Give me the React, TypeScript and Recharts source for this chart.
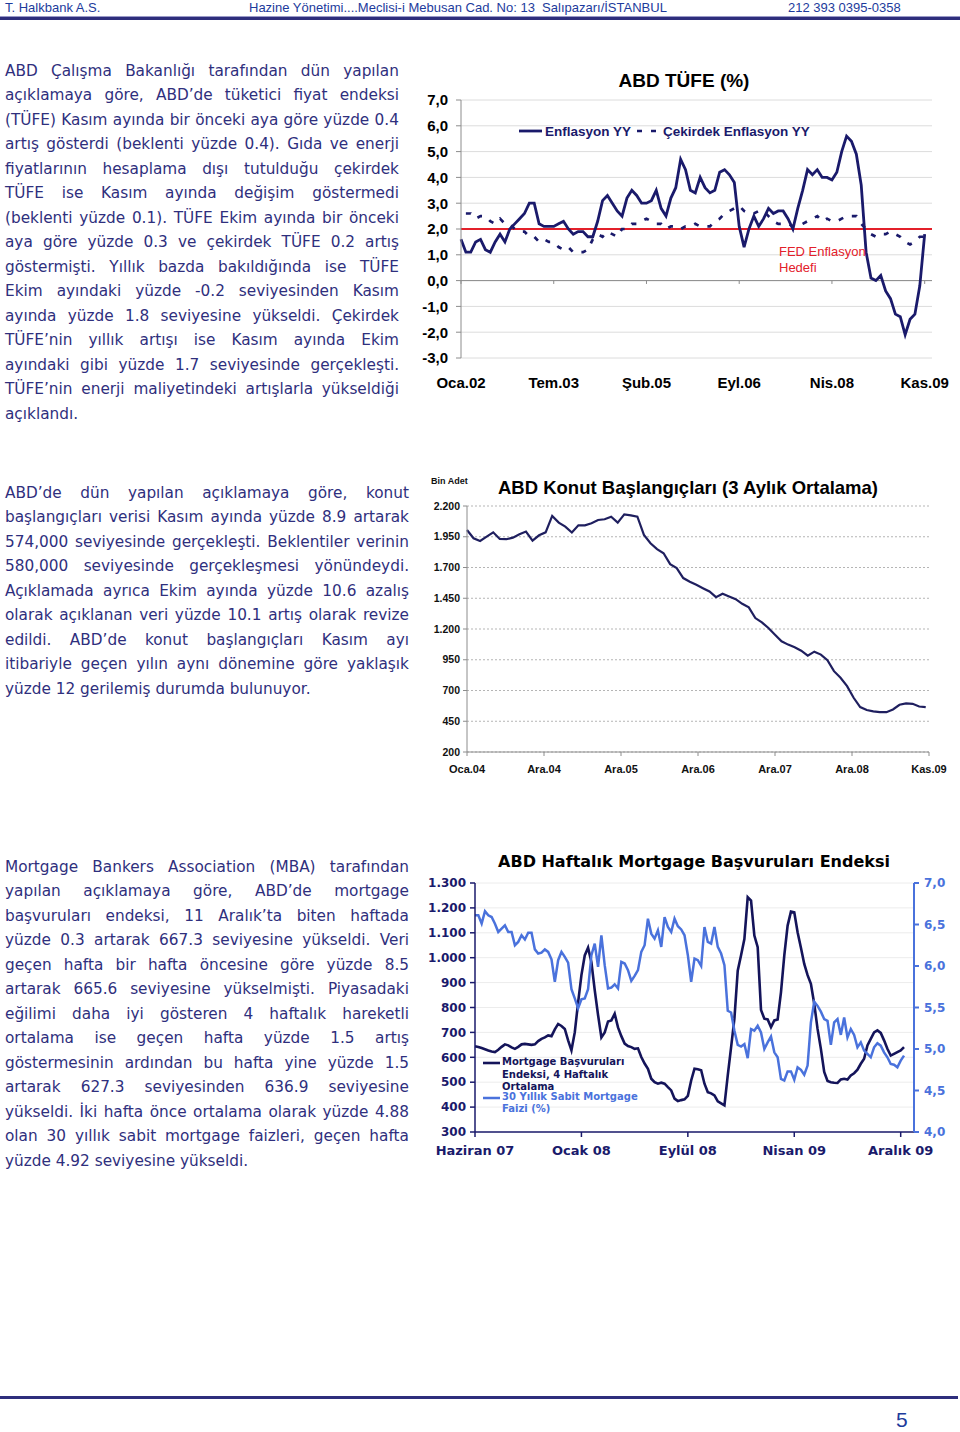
import React from 'react'
import { LineChart, Line, XAxis, YAxis, CartesianGrid, ReferenceLine } from 'recharts'

// ---- ABD TÜFE (%), aylık
const tufeTickIdx = [0, 19, 38, 57, 76, 95]
const tufeTickLabels = ['Oca.02', 'Tem.03', 'Şub.05', 'Eyl.06', 'Nis.08', 'Kas.09']
const tufeYTicks = [-3, -2, -1, 0, 1, 2, 3, 4, 5, 6, 7]
const enflasyonYY = [
  1.6, 1.1, 1.1, 1.5, 1.6, 1.2, 1.1, 1.5, 1.8, 1.5, 2.0, 2.2, 2.4,
  2.6, 3.0, 3.0, 2.2, 2.1, 2.1, 2.1, 2.2, 2.3, 2.0, 1.8, 1.9,
  1.9, 1.7, 1.7, 2.3, 3.1, 3.3, 3.0, 2.7, 2.5, 3.2, 3.5, 3.3,
  3.0, 3.0, 3.1, 3.5, 2.8, 2.5, 3.2, 3.6, 4.7, 4.3, 3.5, 3.4,
  4.0, 3.6, 3.4, 3.5, 4.2, 4.3, 4.1, 3.8, 2.1, 1.3, 2.0, 2.5,
  2.1, 2.4, 2.8, 2.6, 2.7, 2.7, 2.4, 2.0, 2.8, 3.5, 4.3, 4.1,
  4.3, 4.0, 4.0, 3.9, 4.2, 5.0, 5.6, 5.4, 4.9, 3.7, 1.1, 0.1,
  0.0, 0.2, -0.4, -0.7, -1.3, -1.4, -2.1, -1.5, -1.3, -0.2, 1.8,
]
const cekirdekYY = [
  null, 2.6, 2.6, 2.4, 2.5, 2.5, 2.3, 2.2, 2.4, 2.2, 2.2, 2.0, 1.9,
  1.9, 1.7, 1.7, 1.5, 1.6, 1.5, 1.5, 1.3, 1.2, 1.3, 1.1, 1.1,
  1.1, 1.2, 1.6, 1.8, 1.7, 1.9, 1.8, 1.7, 2.0, 2.0, 2.2, 2.2,
  2.3, 2.4, 2.3, 2.2, 2.2, 2.0, 2.1, 2.1, 2.0, 2.1, 2.1, 2.2,
  2.1, 2.1, 2.1, 2.3, 2.4, 2.6, 2.7, 2.8, 2.9, 2.7, 2.6, 2.6,
  2.7, 2.7, 2.5, 2.3, 2.2, 2.2, 2.2, 2.1, 2.1, 2.2, 2.3, 2.4,
  2.5, 2.3, 2.4, 2.3, 2.3, 2.4, 2.5, 2.5, 2.5, 2.2, 2.0, 1.8,
  1.7, 1.8, 1.8, 1.9, 1.8, 1.7, 1.5, 1.4, 1.5, 1.7, 1.7,
]
const fedHedef = 2

// ---- ABD Konut Başlangıçları (3 aylık ort., bin adet), Oca.04 - Kas.09
const konutTickIdx = [0, 11.75, 23.5, 35.25, 47, 58.75, 70.5]
const konutTickLabels = ['Oca.04', 'Ara.04', 'Ara.05', 'Ara.06', 'Ara.07', 'Ara.08', 'Kas.09']
const konutYTicks = [200, 450, 700, 950, 1200, 1450, 1700, 1950, 2200]
const konutBaslangic = [
  2005, 1938, 1916, 1951, 1986, 1932, 1930, 1943, 1970, 1992,
  1919, 1962, 1986, 2119, 2065, 2032, 1984, 2043, 2043, 2059,
  2086, 2092, 2113, 2065, 2132, 2124, 2113, 1965, 1897, 1849,
  1816, 1727, 1695, 1614, 1584, 1559, 1532, 1505, 1459, 1486,
  1465, 1443, 1405, 1376, 1289, 1254, 1208, 1154, 1100, 1073,
  1051, 1024, 984, 1016, 992, 946, 857, 803, 735, 641,
  565, 541, 530, 524, 524, 546, 584, 595, 592, 570, 565,
]

// ---- ABD Haftalık Mortgage Başvuruları, Haziran 07 - Aralık 09
const mortgageTickIdx = [0, 32, 64, 96, 128]
const mortgageTickLabels = ['Haziran 07', 'Ocak 08', 'Eylül 08', 'Nisan 09', 'Aralık 09']
const mortgageYTicks = [300, 400, 500, 600, 700, 800, 900, 1000, 1100, 1200, 1300]
const faizYTicks = [4, 4.5, 5, 5.5, 6, 6.5, 7]
const mbaEndeks = [
  644, 641, 637, 632, 627, 623, 621, 630, 642, 652,
  648, 640, 634, 642, 652, 654, 652, 650, 652, 665,
  674, 680, 688, 685, 712, 734, 726, 714, 668, 628,
  700, 820, 930, 1009, 1040, 982, 870, 770, 680, 700,
  744, 748, 775, 720, 685, 655, 645, 641, 634, 636,
  601, 575, 554, 514, 500, 494, 498, 494, 480, 467,
  434, 424, 428, 431, 445, 507, 554, 552, 548, 494,
  460, 455, 447, 423, 415, 407, 527, 640, 755, 948,
  1010, 1075, 1243, 1229, 1089, 1042, 790, 755, 752, 721,
  748, 752, 861, 1009, 1129, 1185, 1182, 1102, 1040, 975,
  930, 895, 815, 714, 634, 541, 505, 500, 498, 497,
  511, 514, 511, 527, 536, 550, 574, 594, 648, 674,
  700, 708, 698, 668, 634, 607, 614, 621, 628, 641,
]
const sabitFaiz = [
  6.61, 6.61, 6.51, 6.66, 6.61, 6.59, 6.51, 6.41, 6.45, 6.49,
  6.41, 6.41, 6.25, 6.29, 6.37, 6.32, 6.40, 6.40, 6.20, 6.15,
  6.16, 6.20, 6.17, 6.08, 5.81, 6.07, 6.17, 6.11, 6.04, 5.72,
  5.61, 5.49, 5.60, 5.61, 5.72, 6.13, 6.27, 5.99, 6.37, 6.01,
  5.73, 5.74, 5.78, 5.73, 6.05, 6.03, 5.95, 5.82, 5.88, 5.95,
  6.17, 6.25, 6.57, 6.39, 6.33, 6.43, 6.23, 6.59, 6.47, 6.41,
  6.57, 6.48, 6.44, 6.37, 6.13, 5.81, 6.09, 6.07, 6.00, 6.47,
  6.29, 6.27, 6.47, 6.23, 6.15, 6.01, 5.46, 5.44, 5.22, 5.05,
  5.03, 5.06, 4.89, 5.24, 5.22, 5.28, 5.20, 5.00, 5.08, 5.15,
  4.96, 4.90, 4.64, 4.62, 4.73, 4.73, 4.63, 4.78, 4.75, 4.69,
  4.80, 5.32, 5.57, 5.52, 5.45, 5.36, 5.34, 5.05, 5.32, 5.36,
  5.17, 5.38, 5.14, 5.24, 5.17, 5.02, 5.08, 4.98, 4.94, 4.90,
  5.02, 5.07, 5.04, 4.96, 4.90, 4.82, 4.81, 4.78, 4.86, 4.92,
]

// ---- metin
const para1 = [
  'ABD Çalışma Bakanlığı tarafından dün yapılan',
  'açıklamaya göre, ABD’de tüketici fiyat endeksi',
  '(TÜFE) Kasım ayında bir önceki aya göre yüzde 0.4',
  'artış gösterdi (beklenti yüzde 0.4). Gıda ve enerji',
  'fiyatlarının hesaplama dışı tutulduğu çekirdek',
  'TÜFE ise Kasım ayında değişim göstermedi',
  '(beklenti yüzde 0.1). TÜFE Ekim ayında bir önceki',
  'aya göre yüzde 0.3 ve çekirdek TÜFE 0.2 artış',
  'göstermişti. Yıllık bazda bakıldığında ise TÜFE',
  'Ekim ayındaki yüzde -0.2 seviyesinden Kasım',
  'ayında yüzde 1.8 seviyesine yükseldi. Çekirdek',
  'TÜFE’nin yıllık artışı ise Kasım ayında Ekim',
  'ayındaki gibi yüzde 1.7 seviyesinde gerçekleşti.',
  'TÜFE’nin enerji maliyetindeki artışlarla yükseldiği',
  'açıklandı.',
]
const para2 = [
  'ABD’de dün yapılan açıklamaya göre, konut',
  'başlangıçları verisi Kasım ayında yüzde 8.9 artarak',
  '574,000 seviyesinde gerçekleşti. Beklentiler verinin',
  '580,000 seviyesinde gerçekleşmesi yönündeydi.',
  'Açıklamada ayrıca Ekim ayında yüzde 10.6 azalış',
  'olarak açıklanan veri yüzde 10.1 artış olarak revize',
  'edildi. ABD’de konut başlangıçları Kasım ayı',
  'itibariyle geçen yılın aynı dönemine göre yaklaşık',
  'yüzde 12 gerilemiş durumda bulunuyor.',
]
const para3 = [
  'Mortgage Bankers Association (MBA) tarafından',
  'yapılan açıklamaya göre, ABD’de mortgage',
  'başvuruları endeksi, 11 Aralık’ta biten haftada',
  'yüzde 0.3 artarak 667.3 seviyesine yükseldi. Veri',
  'geçen hafta bir hafta öncesine göre yüzde 8.5',
  'artarak 665.6 seviyesine yükselmişti. Piyasadaki',
  'eğilimi daha iyi gösteren 4 haftalık hareketli',
  'ortalama ise geçen hafta yüzde 1.5 artış',
  'göstermesinin ardından bu hafta yine yüzde 1.5',
  'artarak 627.3 seviyesinden 636.9 seviyesine',
  'yükseldi. İki hafta önce ortalama olarak yüzde 4.88',
  'olan 30 yıllık sabit mortgage faizleri, geçen hafta',
  'yüzde 4.92 seviyesine yükseldi.',
]

const tufeData = enflasyonYY.map((v, i) => ({ i, cpi: v, core: cekirdekYY[i] }))
const konutData = konutBaslangic.map((v, i) => ({ i, v }))
const mortgageData = mbaEndeks.map((v, i) => ({ i, mba: v, faiz: sabitFaiz[i] }))

const ARIAL = '"Liberation Sans", Arial, sans-serif'
const VERDANA = '"DejaVu Sans", Verdana, sans-serif'
const NAVY = '#1a1a6b'
const TEXT = '#2f2f7d'
const LIGHT_BLUE = '#4a72dc'

const comma1 = (v: number) => v.toFixed(1).replace('.', ',')
const thousands = (v: number) =>
  v >= 1000 ? `${Math.floor(v / 1000)}.${String(v % 1000).padStart(3, '0')}` : String(v)
const labelOf = (ticks: number[], labels: string[]) => (v: number) => labels[ticks.indexOf(v)] ?? ''

function Para({ lines, top, width }: { lines: string[]; top: number; width: number }) {
  return (
    <div
      style={{
        position: 'absolute',
        left: 5,
        top,
        width,
        fontFamily: VERDANA,
        fontSize: 15.3,
        lineHeight: '24.5px',
        color: TEXT,
      }}
    >
      {lines.map((l, k) =>
        k < lines.length - 1 ? (
          <div key={k} style={{ display: 'flex', justifyContent: 'space-between', whiteSpace: 'nowrap' }}>
            {l.split(' ').map((w, j) => (
              <span key={j}>{w}</span>
            ))}
          </div>
        ) : (
          <div key={k} style={{ whiteSpace: 'nowrap' }}>
            {l}
          </div>
        )
      )}
    </div>
  )
}

function Centered({ x, y, style, children }: { x: number; y: number; style: React.CSSProperties; children: React.ReactNode }) {
  return (
    <div style={{ position: 'absolute', left: x, top: y, transform: 'translate(-50%, -50%)', whiteSpace: 'nowrap', ...style }}>
      {children}
    </div>
  )
}

function TufeChart() {
  const axisGray = '#8c8c8c'
  return (
    <>
      <div style={{ position: 'absolute', left: 400, top: 60 }}>
        <LineChart width={560} height={345} data={tufeData} margin={{ top: 40, right: 28, bottom: 0, left: 0 }}>
          <CartesianGrid vertical={false} stroke="#dcdcdc" />
          <XAxis
            dataKey="i"
            type="number"
            domain={[0, 96.5]}
            ticks={tufeTickIdx}
            interval={0}
            tickFormatter={labelOf(tufeTickIdx, tufeTickLabels)}
            axisLine={false}
            tickLine={false}
            tickSize={0}
            tickMargin={19}
            height={47}
            tick={{ fill: '#000', fontSize: 15, fontWeight: 700, fontFamily: ARIAL }}
          />
          <YAxis
            type="number"
            domain={[-3, 7]}
            ticks={tufeYTicks}
            interval={0}
            tickFormatter={comma1}
            width={61}
            axisLine={{ stroke: axisGray }}
            tickLine={{ stroke: axisGray }}
            tickSize={5}
            tickMargin={8}
            tick={{ fill: '#000', fontSize: 15, fontWeight: 700, fontFamily: ARIAL }}
          />
          <ReferenceLine y={0} stroke={axisGray} />
          {tufeTickIdx.map((t) => (
            <ReferenceLine
              key={t}
              segment={[
                { x: t, y: 0 },
                { x: t, y: -0.13 },
              ]}
              stroke={axisGray}
            />
          ))}
          <ReferenceLine y={fedHedef} stroke="#e3202a" strokeWidth={2} />
          <Line
            dataKey="core"
            type="linear"
            stroke={NAVY}
            strokeWidth={2.7}
            strokeDasharray="5 9"
            dot={false}
            isAnimationActive={false}
          />
          <Line dataKey="cpi" type="linear" stroke={NAVY} strokeWidth={2.8} dot={false} isAnimationActive={false} />
        </LineChart>
      </div>
      <Centered x={684} y={81} style={{ fontFamily: ARIAL, fontWeight: 700, fontSize: 19, color: '#000' }}>
        ABD TÜFE (%)
      </Centered>
      <div
        style={{
          position: 'absolute',
          left: 519,
          top: 123,
          display: 'flex',
          alignItems: 'center',
          fontFamily: ARIAL,
          fontWeight: 700,
          fontSize: 13.5,
          color: NAVY,
          whiteSpace: 'nowrap',
        }}
      >
        <svg width={24} height={16}>
          <line x1={0} y1={8} x2={23} y2={8} stroke={NAVY} strokeWidth={2.8} />
        </svg>
        <span style={{ marginLeft: 2 }}>Enflasyon YY</span>
        <svg width={24} height={16} style={{ marginLeft: 6 }}>
          <line x1={0} y1={8} x2={22} y2={8} stroke={NAVY} strokeWidth={2.7} strokeDasharray="5 9" />
        </svg>
        <span style={{ marginLeft: 2 }}>Çekirdek Enflasyon YY</span>
      </div>
      <div
        style={{
          position: 'absolute',
          left: 779,
          top: 244,
          fontFamily: ARIAL,
          fontSize: 13,
          lineHeight: '16px',
          color: '#e3202a',
          whiteSpace: 'nowrap',
        }}
      >
        FED Enflasyon
        <br />
        Hedefi
      </div>
    </>
  )
}

function KonutChart() {
  const axisGray = '#8c8c8c'
  return (
    <>
      <div style={{ position: 'absolute', left: 420, top: 470 }}>
        <LineChart width={540} height={310} data={konutData} margin={{ top: 36, right: 31, bottom: 0, left: 0 }}>
          <CartesianGrid vertical={false} stroke="#b5b5b5" strokeDasharray="2 2" />
          <XAxis
            dataKey="i"
            type="number"
            domain={[0, 70.5]}
            ticks={konutTickIdx}
            interval={0}
            tickFormatter={labelOf(konutTickIdx, konutTickLabels)}
            axisLine={{ stroke: axisGray }}
            tickLine={{ stroke: axisGray }}
            tickSize={4}
            tickMargin={9}
            height={28}
            tick={{ fill: '#111', fontSize: 11, fontWeight: 700, fontFamily: ARIAL }}
          />
          <YAxis
            type="number"
            domain={[200, 2200]}
            ticks={konutYTicks}
            interval={0}
            tickFormatter={thousands}
            width={47}
            axisLine={{ stroke: axisGray }}
            tickLine={{ stroke: axisGray }}
            tickSize={4}
            tickMargin={3}
            tick={{ fill: '#111', fontSize: 10.5, fontWeight: 700, fontFamily: ARIAL }}
          />
          <Line dataKey="v" type="linear" stroke="#1f1f5f" strokeWidth={2.2} dot={false} isAnimationActive={false} />
        </LineChart>
      </div>
      <div
        style={{
          position: 'absolute',
          left: 431,
          top: 476,
          fontFamily: ARIAL,
          fontWeight: 700,
          fontSize: 9,
          color: '#111',
          whiteSpace: 'nowrap',
        }}
      >
        Bin Adet
      </div>
      <Centered x={688} y={488} style={{ fontFamily: ARIAL, fontWeight: 700, fontSize: 18.5, color: '#000' }}>
        ABD Konut Başlangıçları (3 Aylık Ortalama)
      </Centered>
    </>
  )
}

function MortgageChart() {
  return (
    <>
      <div style={{ position: 'absolute', left: 420, top: 845 }}>
        <LineChart width={540} height={320} data={mortgageData} margin={{ top: 38, right: 0, bottom: 0, left: 0 }}>
          <CartesianGrid vertical={false} stroke="#ececec" yAxisId="l" />
          <XAxis
            dataKey="i"
            type="number"
            domain={[0, 132]}
            ticks={mortgageTickIdx}
            interval={0}
            tickFormatter={labelOf(mortgageTickIdx, mortgageTickLabels)}
            axisLine={{ stroke: NAVY, strokeWidth: 1.5 }}
            tickLine={{ stroke: NAVY, strokeWidth: 1.5 }}
            tickSize={5}
            tickMargin={9}
            height={33}
            tick={{ fill: NAVY, fontSize: 13, fontWeight: 700, fontFamily: VERDANA }}
          />
          <YAxis
            yAxisId="l"
            type="number"
            domain={[300, 1300]}
            ticks={mortgageYTicks}
            interval={0}
            tickFormatter={thousands}
            width={55}
            axisLine={{ stroke: NAVY, strokeWidth: 1.5 }}
            tickLine={{ stroke: NAVY, strokeWidth: 1.5 }}
            tickSize={5}
            tickMargin={4}
            tick={{ fill: NAVY, fontSize: 12, fontWeight: 700, fontFamily: VERDANA }}
          />
          <YAxis
            yAxisId="r"
            orientation="right"
            type="number"
            domain={[4, 7]}
            ticks={faizYTicks}
            interval={0}
            tickFormatter={comma1}
            width={46}
            axisLine={{ stroke: LIGHT_BLUE, strokeWidth: 2 }}
            tickLine={{ stroke: LIGHT_BLUE, strokeWidth: 2 }}
            tickSize={5}
            tickMargin={5}
            tick={{ fill: LIGHT_BLUE, fontSize: 12, fontWeight: 700, fontFamily: VERDANA }}
          />
          <Line
            yAxisId="l"
            dataKey="mba"
            type="linear"
            stroke="#14145a"
            strokeWidth={2.6}
            dot={false}
            isAnimationActive={false}
          />
          <Line
            yAxisId="r"
            dataKey="faiz"
            type="linear"
            stroke={LIGHT_BLUE}
            strokeWidth={2.5}
            dot={false}
            isAnimationActive={false}
          />
        </LineChart>
      </div>
      <Centered x={694} y={861} style={{ fontFamily: VERDANA, fontWeight: 700, fontSize: 16, color: '#000' }}>
        ABD Haftalık Mortgage Başvuruları Endeksi
      </Centered>
      <div
        style={{
          position: 'absolute',
          left: 483,
          top: 1056,
          fontFamily: VERDANA,
          fontWeight: 700,
          fontSize: 10,
          lineHeight: '12.5px',
          whiteSpace: 'nowrap',
        }}
      >
        <div style={{ display: 'flex', color: '#14145a' }}>
          <svg width={19} height={13}>
            <line x1={0} y1={7} x2={17} y2={7} stroke="#14145a" strokeWidth={2.6} />
          </svg>
          <div>
            Mortgage Başvuruları
            <br />
            Endeksi, 4 Haftalık
            <br />
            Ortalama
          </div>
        </div>
        <div style={{ display: 'flex', color: LIGHT_BLUE, marginTop: -3 }}>
          <svg width={19} height={13}>
            <line x1={0} y1={7} x2={17} y2={7} stroke={LIGHT_BLUE} strokeWidth={2.5} />
          </svg>
          <div>
            30 Yıllık Sabit Mortgage
            <br />
            Faizi (%)
          </div>
        </div>
      </div>
    </>
  )
}

export default function App() {
  const headerFont = '"Liberation Sans Narrow", "Liberation Sans", sans-serif'
  const headerBlue = '#1d3b9c'
  return (
    <div
      style={{
        position: 'absolute',
        left: 0,
        top: 0,
        width: 960,
        height: 1432,
        background: '#fff',
        overflow: 'hidden',
      }}
    >
      <div style={{ position: 'absolute', top: 0, left: 0, width: 960, height: 15, fontFamily: headerFont, fontSize: 13, color: headerBlue, lineHeight: '15px', whiteSpace: 'nowrap' }}>
        <span style={{ position: 'absolute', left: 5 }}>T. Halkbank A.S.</span>
        <span style={{ position: 'absolute', left: 249 }}>Hazine Yönetimi....Meclisi-i Mebusan Cad. No: 13&nbsp; Salıpazarı/İSTANBUL</span>
        <span style={{ position: 'absolute', left: 788 }}>212 393 0395-0358</span>
      </div>
      <div style={{ position: 'absolute', left: 0, top: 16, width: 960, height: 1, background: '#9a9ac8' }} />
      <div style={{ position: 'absolute', left: 0, top: 17, width: 960, height: 3, background: '#2e2e7c' }} />

      <Para lines={para1} top={58.75} width={394} />
      <Para lines={para2} top={480.75} width={404} />
      <Para lines={para3} top={854.75} width={404} />

      <TufeChart />
      <KonutChart />
      <MortgageChart />

      <div style={{ position: 'absolute', left: 0, top: 1396, width: 958, height: 3, background: '#2e2e7c' }} />
      <div
        style={{
          position: 'absolute',
          left: 896,
          top: 1409,
          fontFamily: headerFont,
          fontSize: 21,
          color: headerBlue,
          lineHeight: '22px',
        }}
      >
        5
      </div>
    </div>
  )
}
